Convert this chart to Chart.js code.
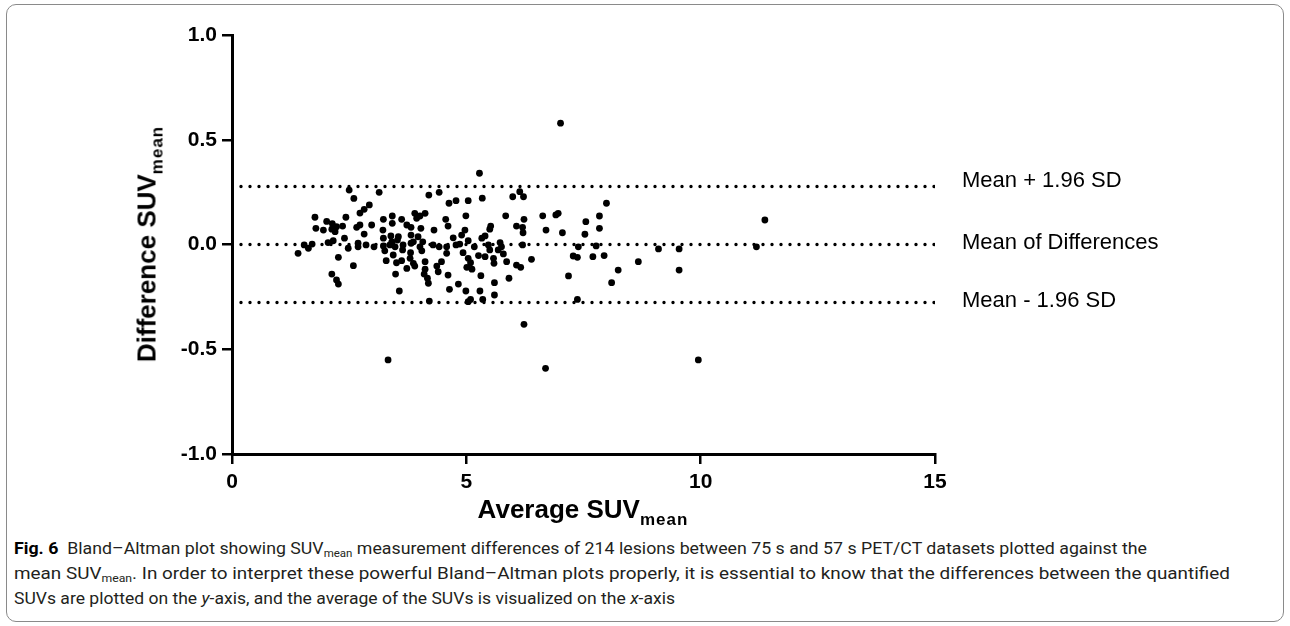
<!DOCTYPE html>
<html lang="en">
<head>
    <meta charset="UTF-8">
    <title>Bland-Altman plot SUVmean</title>
    <style>
        body {
            margin: 0;
            padding: 0;
            background: #fff;
            width: 1290px;
            height: 626px;
            overflow: hidden;
            font-family: "Liberation Sans", Arial, sans-serif;
        }

        .frame {
            position: absolute;
            left: 6px;
            top: 4px;
            width: 1276px;
            height: 616px;
            border: 1px solid #8a8a8a;
            border-radius: 10px;
        }

        .chart-box {
            position: absolute;
            left: 0;
            top: 0;
            width: 1290px;
            height: 500px;
        }

        .line-label {
            position: absolute;
            left: 962px;
            font-size: 22px;
            line-height: 22px;
            color: #000;
            white-space: nowrap;
        }

        .axis-title {
            position: absolute;
            font-weight: bold;
            font-size: 26px;
            line-height: 26px;
            color: #000;
            white-space: nowrap;
        }

        .axis-title sub {
            font-size: 17px;
            letter-spacing: 1px;
            vertical-align: -7px;
        }

        #yTitle {
            left: 152px;
            top: 244px;
            transform: translate(-50%, -50%) rotate(-90deg);
        }

        #xTitle {
            left: 583px;
            top: 496px;
            transform: translateX(-50%);
        }

        .caption {
            position: absolute;
            left: 14px;
            font-family: "Roboto", "Liberation Sans", sans-serif;
            font-size: 17px;
            color: #231f20;
            white-space: nowrap;
            transform-origin: left center;
        }

        .caption b {
            color: #000;
        }

        .caption sub {
            font-size: 11px;
            vertical-align: -3px;
        }
    </style>
</head>
<body>
    <div class="frame"></div>
    <div class="chart-box">
        <canvas id="baChart"></canvas>
    </div>

    <div class="line-label" style="top:169px">Mean + 1.96 SD</div>
    <div class="line-label" style="top:231px">Mean of Differences</div>
    <div class="line-label" style="top:289px">Mean - 1.96 SD</div>

    <div class="axis-title" id="yTitle">Difference SUV<sub>mean</sub></div>
    <div class="axis-title" id="xTitle">Average SUV<sub>mean</sub></div>

    <div class="caption" data-w="1133" style="top:538px"><b>Fig. 6</b>&nbsp; Bland–Altman plot showing SUV<sub>mean</sub> measurement differences of 214 lesions between 75 s and 57 s PET/CT datasets plotted against the</div>
    <div class="caption" data-w="1216" style="top:563px">mean SUV<sub>mean</sub>. In order to interpret these powerful Bland–Altman plots properly, it is essential to know that the differences between the quantified</div>
    <div class="caption" data-w="661" style="top:588px">SUVs are plotted on the <i>y</i>-axis, and the average of the SUVs is visualized on the <i>x</i>-axis</div>

    <script src="https://cdn.jsdelivr.net/npm/chart.js"></script>
    <script>
        // Average SUVmean (x) and difference SUVmean (y) per lesion
        const avgSuv = [
            2.50, 2.60, 2.73, 1.77, 2.02, 2.43, 2.14, 2.23, 2.36, 2.66,
            1.79, 1.95, 2.13, 2.20, 2.40, 2.16, 2.05, 2.69, 1.71, 1.54,
            1.63, 1.41, 2.48, 2.69, 2.27, 2.59, 2.13, 2.23, 2.27,
            3.14, 4.20, 4.42, 4.63, 4.78, 5.04, 2.93, 2.82, 3.23, 3.42,
            3.62, 3.90, 4.01, 4.12, 3.94, 4.56, 4.99, 2.73, 2.98, 3.42,
            3.73, 3.82, 4.61, 4.31, 4.03, 4.97, 2.82, 3.22, 3.39, 3.55,
            3.82, 3.97, 4.72, 4.90, 5.04, 3.23, 3.41, 3.53, 3.87, 4.07,
            2.86, 3.03, 3.23, 3.37, 3.48, 3.65, 3.82, 4.01, 4.29, 4.42,
            4.58, 4.78, 4.86, 5.17, 3.26, 3.64, 3.81, 4.05, 3.44, 4.58,
            4.93, 5.26, 3.29, 3.51, 3.62, 3.80, 3.87, 4.12, 4.47, 5.04,
            5.09, 3.73, 3.90, 4.12, 4.37, 5.01, 5.12, 3.49, 4.10, 4.40,
            4.61, 4.17, 4.19, 4.83, 4.64, 4.99, 3.57, 5.29, 4.21, 5.04,
            5.09,
            7.01, 5.28, 6.14, 6.22, 5.99, 5.34, 5.84, 6.63, 6.91, 6.96,
            6.23, 7.55, 7.84, 5.52, 5.50, 6.07, 6.20, 6.70, 6.21, 7.05,
            7.53, 7.84, 5.40, 5.33, 5.72, 6.20, 5.47, 5.75, 7.39, 7.77,
            5.50, 5.40, 5.58, 5.79, 5.68, 5.59, 5.86, 6.39, 6.07, 6.16,
            7.28, 7.37, 7.70, 5.31, 5.91, 7.18, 5.60, 5.60, 5.35, 7.37,
            7.99, 11.37, 9.10, 9.54, 11.19, 7.94, 8.67, 8.24, 9.54, 8.10,
            3.33, 6.23, 6.69, 9.95
        ];
        const diffSuv = [
            0.260, 0.220, 0.150, 0.130, 0.110, 0.130, 0.100, 0.085, 0.088, 0.082,
            0.077, 0.069, 0.073, 0.061, 0.030, 0.018, 0.009, 0.006, 0.002, -0.002,
            -0.018, -0.042, -0.018, -0.011, -0.061, -0.101, -0.141, -0.169, -0.189,
            0.249, 0.236, 0.249, 0.197, 0.209, 0.209, 0.189, 0.168, 0.120, 0.136,
            0.120, 0.149, 0.136, 0.149, 0.125, 0.120, 0.137, 0.093, 0.093, 0.101,
            0.093, 0.082, 0.088, 0.069, 0.077, 0.069, 0.050, 0.069, 0.041, 0.037,
            0.045, 0.037, 0.032, 0.045, 0.018, 0.030, 0.013, 0.021, 0.013, 0.013,
            -0.002, -0.011, -0.007, -0.002, -0.011, -0.002, 0.006, -0.011, -0.002, -0.011,
            -0.011, -0.002, 0.002, -0.011, -0.030, -0.026, -0.039, -0.030, -0.050, -0.042,
            -0.039, -0.053, -0.077, -0.087, -0.077, -0.066, -0.090, -0.082, -0.082, -0.066,
            -0.087, -0.114, -0.103, -0.118, -0.103, -0.109, -0.118, -0.141, -0.141, -0.130,
            -0.146, -0.161, -0.185, -0.189, -0.214, -0.222, -0.222, -0.222, -0.270, -0.273,
            -0.262,
            0.579, 0.340, 0.252, 0.228, 0.228, 0.221, 0.137, 0.137, 0.141, 0.149,
            0.120, 0.109, 0.136, 0.088, 0.073, 0.088, 0.082, 0.069, 0.056, 0.056,
            0.049, 0.077, 0.041, 0.030, 0.009, -0.002, -0.002, -0.011, -0.011, -0.007,
            -0.026, -0.058, -0.066, -0.045, -0.026, -0.090, -0.082, -0.071, -0.098, -0.109,
            -0.055, -0.061, -0.058, -0.149, -0.161, -0.150, -0.182, -0.241, -0.262, -0.262,
            0.197, 0.117, -0.021, -0.021, -0.011, -0.053, -0.082, -0.122, -0.122, -0.182,
            -0.551, -0.381, -0.591, -0.551
        ];

        // mean of differences and limits of agreement (mean +/- 1.96 SD)
        const meanDiff = 0.0;
        const upperLoA = 0.277;
        const lowerLoA = -0.277;

        const xTicks = [0, 5, 10, 15];
        const yTicks = [-1.0, -0.5, 0.0, 0.5, 1.0];

        const points = avgSuv.map((x, i) => ({ x: x, y: diffSuv[i] }));

        function hLine(y) {
            return [{ x: xTicks[0], y: y }, { x: xTicks[xTicks.length - 1], y: y }];
        }

        const dotted = {
            type: 'line',
            showLine: true,
            borderColor: '#000',
            borderWidth: 3.4,
            borderDash: [0, 9],
            borderCapStyle: 'round',
            pointRadius: 0,
            fill: false
        };

        const tickFont = { family: '"Liberation Sans", Arial, sans-serif', size: 21, weight: 'bold' };

        new Chart(document.getElementById('baChart'), {
            type: 'scatter',
            data: {
                datasets: [
                    Object.assign({ data: hLine(upperLoA) }, dotted),
                    Object.assign({ data: hLine(meanDiff) }, dotted),
                    Object.assign({ data: hLine(lowerLoA) }, dotted),
                    {
                        data: points,
                        pointRadius: 3.4,
                        pointBackgroundColor: '#000',
                        pointBorderWidth: 0
                    }
                ]
            },
            options: {
                responsive: true,
                maintainAspectRatio: false,
                animation: false,
                layout: { padding: { left: 100, top: 35, right: 355, bottom: 6 } },
                plugins: {
                    legend: { display: false },
                    tooltip: { enabled: false }
                },
                scales: {
                    x: {
                        type: 'linear',
                        min: xTicks[0],
                        max: xTicks[xTicks.length - 1],
                        afterBuildTicks: s => { s.ticks = xTicks.map(v => ({ value: v })); },
                        afterFit: s => { s.height = 40; },
                        border: { color: '#000', width: 3 },
                        grid: { drawOnChartArea: false, color: '#000', lineWidth: 2.5, tickLength: 10 },
                        ticks: { color: '#000', font: tickFont, padding: 6, maxRotation: 0 }
                    },
                    y: {
                        type: 'linear',
                        min: yTicks[0],
                        max: yTicks[yTicks.length - 1],
                        afterBuildTicks: s => { s.ticks = yTicks.map(v => ({ value: v })); },
                        afterFit: s => { s.width = 132; },
                        border: { color: '#000', width: 3 },
                        grid: { drawOnChartArea: false, color: '#000', lineWidth: 2.5, tickLength: 10 },
                        ticks: {
                            color: '#000',
                            font: tickFont,
                            padding: 5,
                            callback: v => v.toFixed(1)
                        }
                    }
                }
            }
        });

        // squeeze each caption line to the width it has in the printed figure
        document.querySelectorAll('.caption').forEach(el => {
            const target = parseFloat(el.dataset.w);
            const w = el.getBoundingClientRect().width;
            el.style.transform = 'scaleX(' + (target / w) + ')';
        });
    </script>
</body>
</html>
